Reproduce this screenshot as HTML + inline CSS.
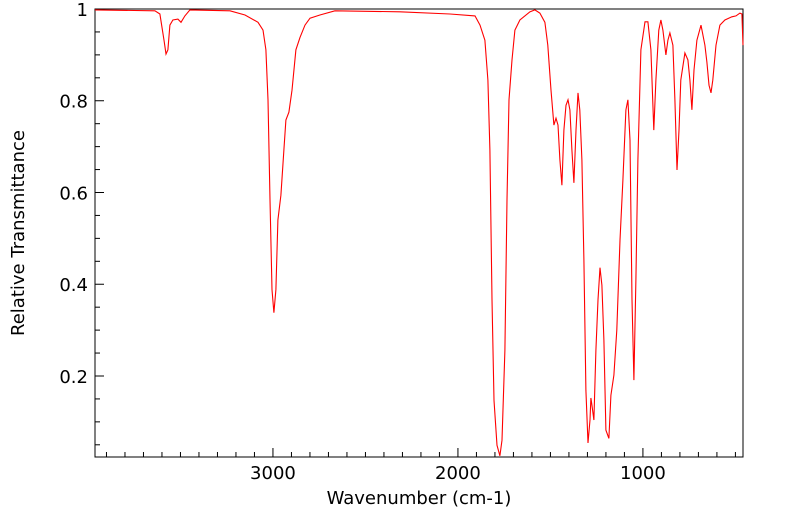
<!DOCTYPE html>
<html><head><meta charset="utf-8"><style>
html,body{margin:0;padding:0;background:#fff;}
svg text{font-family:"DejaVu Sans","Liberation Sans",sans-serif;font-size:18px;fill:#000;}
</style></head><body>
<svg id="chart" width="799" height="516" xmlns="http://www.w3.org/2000/svg">
<g id="axes"></g>
<path id="series" fill="none" stroke="#ff0000" stroke-width="1.1"/>
<text x="419" y="504" text-anchor="middle" font-size="20">Wavenumber (cm-1)</text>
<text transform="translate(24,233) rotate(-90)" text-anchor="middle" font-size="20">Relative Transmittance</text>
</svg>
<script>
const wavenumbers=[3962,3638,3611,3589,3578,3568,3557,3541,3514,3497,3476,3449,3232,3151,3081,3054,3038,3027,3016,3005,2995,2984,2973,2957,2941,2930,2914,2897,2876,2854,2827,2800,2746,2665,2314,2043,1908,1881,1854,1838,1827,1816,1805,1789,1773,1762,1746,1735,1724,1708,1692,1665,1611,1584,1557,1530,1514,1497,1481,1470,1459,1449,1438,1427,1416,1405,1395,1384,1373,1362,1351,1341,1330,1319,1308,1297,1286,1281,1276,1265,1254,1243,1232,1222,1211,1200,1184,1173,1157,1141,1124,1108,1092,1081,1070,1059,1049,1038,1027,1011,989,973,957,941,930,914,903,892,876,865,854,838,827,816,805,795,773,757,746,735,724,708,686,665,654,643,632,622,605,584,557,519,497,476,465,459];
const transmittance=[0.998,0.996,0.989,0.932,0.902,0.911,0.965,0.976,0.978,0.971,0.985,0.998,0.996,0.987,0.971,0.954,0.911,0.802,0.584,0.388,0.338,0.388,0.540,0.594,0.693,0.758,0.775,0.823,0.911,0.938,0.965,0.980,0.987,0.996,0.994,0.989,0.985,0.965,0.932,0.845,0.693,0.366,0.147,0.049,0.026,0.060,0.256,0.584,0.802,0.889,0.954,0.976,0.994,0.998,0.991,0.971,0.921,0.823,0.747,0.762,0.747,0.671,0.616,0.736,0.790,0.802,0.780,0.693,0.621,0.736,0.817,0.780,0.671,0.453,0.169,0.054,0.104,0.152,0.137,0.104,0.256,0.366,0.436,0.398,0.278,0.082,0.064,0.158,0.202,0.300,0.496,0.627,0.780,0.802,0.714,0.366,0.191,0.410,0.671,0.911,0.972,0.972,0.911,0.736,0.845,0.954,0.976,0.954,0.900,0.932,0.948,0.921,0.802,0.649,0.736,0.845,0.904,0.889,0.845,0.780,0.867,0.932,0.965,0.921,0.884,0.834,0.817,0.845,0.921,0.965,0.976,0.983,0.985,0.991,0.989,0.921];
const xTicks=[3000,2000,1000];
const yTicks=[0.2,0.4,0.6,0.8,1];
const yTickLabels=["0.2","0.4","0.6","0.8","1"];

const L=95,R=743,T=9,B=457;
const WMAX=3962,WMIN=459,TMIN=0.0234,TMAX=1.0;
const xs=w=>L+(WMAX-w)/(WMAX-WMIN)*(R-L);
const ys=v=>B-(v-TMIN)/(TMAX-TMIN)*(B-T);
const NS="http://www.w3.org/2000/svg";
const ax=document.getElementById('axes');
function mk(tag,attrs){const e=document.createElementNS(NS,tag);for(const k in attrs)e.setAttribute(k,attrs[k]);return e;}
const frame=mk('rect',{x:L,y:T,width:R-L,height:B-T,fill:'none',stroke:'#000','stroke-width':1});


ax.appendChild(frame);
for(let w=500;w<=3900;w+=100){
  const major=w%1000===0;
  const t=mk('line',{x1:xs(w),x2:xs(w),y1:B,y2:B-(major?9:5),stroke:'#000','stroke-width':1});
  
  
  ax.appendChild(t);
}
xTicks.forEach(w=>{
  const tx=mk('text',{x:xs(w),y:479,'text-anchor':'middle'});tx.textContent=String(w);
  
  
  ax.appendChild(tx);
});
for(let i=1;i<=20;i++){
  const v=i*0.05;const major=i%4===0;
  const t=mk('line',{x1:L,x2:L+(major?9:5),y1:ys(v),y2:ys(v),stroke:'#000','stroke-width':1});
  
  
  ax.appendChild(t);
}
yTicks.forEach((v,i)=>{
  const tx=mk('text',{x:88,y:ys(v)+7,'text-anchor':'end'});tx.textContent=yTickLabels[i];
  
  
  ax.appendChild(tx);
});
let d='';
wavenumbers.forEach((w,i)=>{d+=(i?'L':'M')+xs(w).toFixed(1)+','+ys(transmittance[i]).toFixed(1);});
document.getElementById('series').setAttribute('d',d);
</script>
</body></html>
